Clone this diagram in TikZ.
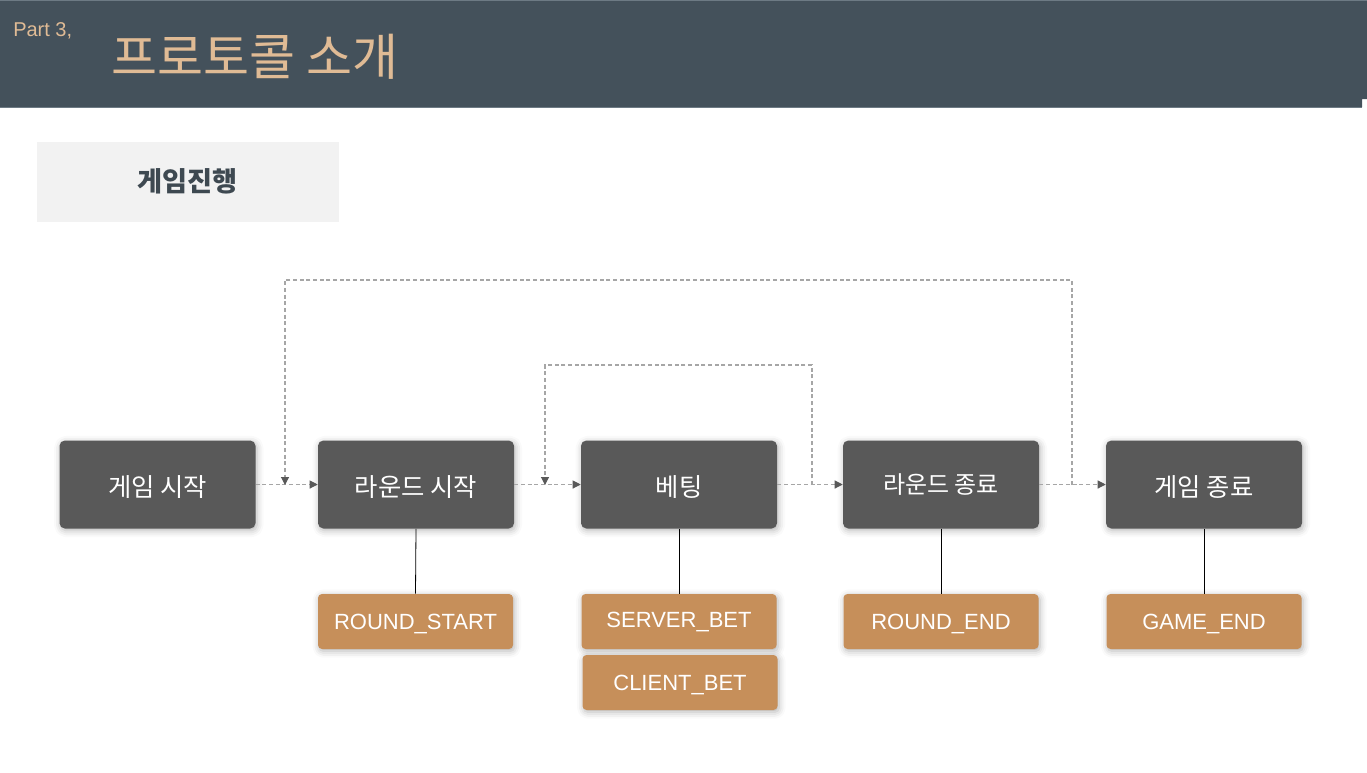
\documentclass[tikz,border=0pt]{standalone}
\usepackage{fontspec}
\setmainfont{Liberation Sans}
\newfontfamily\kr{Noto Sans CJK KR}
\usetikzlibrary{arrows.meta,shadows.blur}
\definecolor{headbg}{HTML}{44515B}
\definecolor{headline}{HTML}{6D7A84}
\definecolor{titletan}{HTML}{E0BB95}
\definecolor{stagegray}{HTML}{595959}
\definecolor{msgorange}{HTML}{C68F5A}
\definecolor{panelgray}{HTML}{F2F2F2}
\definecolor{paneltext}{HTML}{3E4951}
\definecolor{dashgray}{HTML}{A6A6A6}
\newcommand{\lowered}[1]{\raisebox{-2pt}[\height][\depth]{#1}}
\tikzset{
	softshadow/.style={blur shadow={shadow xshift=1pt, shadow yshift=-1.5pt, shadow blur radius=5pt, shadow opacity=30}},
	stage/.style={fill=stagegray, rounded corners=4pt, minimum width=147pt, minimum height=66pt, inner sep=0pt, text=white, font=\kr\fontsize{19}{22}\selectfont, softshadow},
	msgbox/.style={fill=msgorange, rounded corners=3pt, minimum width=146.25pt, minimum height=41.25pt, inner sep=0pt, text=white, font=\fontsize{16.5}{19}\selectfont, softshadow},
	flow/.style={dashgray, dash pattern=on 3pt off 2pt, line width=0.8pt, -{Triangle[length=6pt,width=6pt,color=stagegray]}},
	link/.style={black, line width=0.6pt}
}
\begin{document}
\begin{tikzpicture}[x=0.75pt,y=-0.75pt]
	\useasboundingbox (0,0) rectangle (1367,772);
	% header
	\fill[headbg] (0,0) -- (1367,0) -- (1367,99) -- (1362,99) -- (1362,107) -- (0,107) -- cycle;
	\draw[headline, line width=1pt] (0,0.6) -- (1367,0.6);
	\draw[headline, line width=1pt] (0,107.5) -- (1362,107.5);
	\node[anchor=base west, inner sep=0pt, text=titletan, font=\fontsize{15}{17}\selectfont] (part) at (13,36) {Part 3,};
	\node[anchor=base west, inner sep=0pt, text=titletan, font=\kr\fontsize{37.5}{42}\selectfont] (title) at (111,75) {프로토콜 소개};
	% section label
	\node[fill=panelgray, minimum width=226.5pt, minimum height=60pt, inner sep=0pt, text=paneltext, font=\kr\bfseries\fontsize{20.4}{24}\selectfont] (section) at (187.5,181.5) {게임진행};
	% stages
	\node[stage] (gs) at (157.5,484.5) {\lowered{게임 시작}};
	\node[stage] (rs) at (416,484.5) {\lowered{라운드 시작}};
	\node[stage] (bet) at (679,484.5) {\lowered{베팅}};
	\node[stage, font=\kr\fontsize{18}{21}\selectfont] (re) at (941,484.5) {라운드 종료};
	\node[stage] (ge) at (1204,484.5) {\lowered{게임 종료}};
	% messages
	\node[msgbox] (rsmsg) at (415.5,621.5) {\lowered{ROUND\_START}};
	\node[msgbox] (sbet) at (679,621.5) {SERVER\_BET};
	\node[msgbox] (cbet) at (680,682.5) {\lowered{CLIENT\_BET}};
	\node[msgbox] (remsg) at (941,621.5) {\lowered{ROUND\_END}};
	\node[msgbox] (gemsg) at (1204,621.5) {\lowered{GAME\_END}};
	\draw[link] (rs.south) -- (rsmsg.north);
	\draw[link] (bet.south) -- (sbet.north);
	\draw[link] (re.south) -- (remsg.north);
	\draw[link] (ge.south) -- (gemsg.north);
	% flow
	\draw[flow] (gs.east) -- (rs.west);
	\draw[flow] (rs.east) -- (bet.west);
	\draw[flow] (bet.east) -- (re.west);
	\draw[flow] (re.east) -- (ge.west);
	% loops
	\coordinate (betloop) at (812,485);
	\coordinate (betlooptop) at (812,365);
	\coordinate (betloopend) at (545,485);
	\coordinate (roundloop) at (1072,485);
	\coordinate (roundlooptop) at (1072,280);
	\coordinate (roundloopend) at (285,485);
	\draw[flow] (betloop) -- (betlooptop) -| (betloopend);
	\draw[flow] (roundloop) -- (roundlooptop) -| (roundloopend);
\end{tikzpicture}
\end{document}
